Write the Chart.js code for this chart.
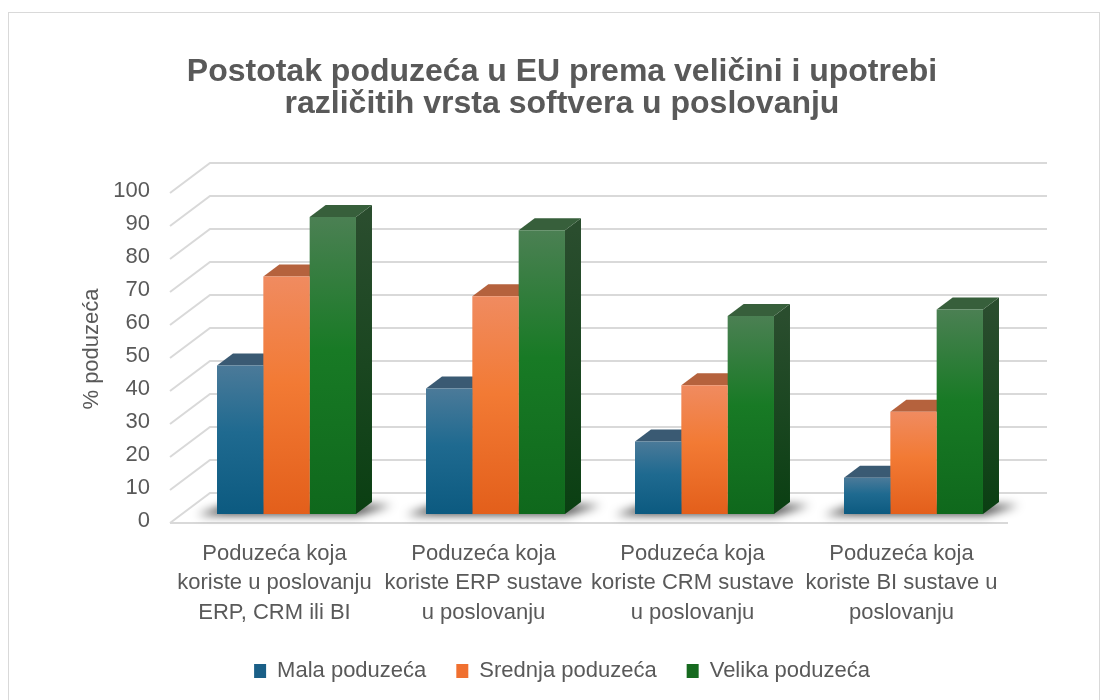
<!DOCTYPE html>
<html>
<head>
<meta charset="utf-8">
<script src="https://cdn.jsdelivr.net/npm/chart.js@4/dist/chart.umd.min.js"></script>
<style>
  html, body { margin: 0; padding: 0; background: #fff; }
  #wrap { width: 1104px; height: 700px; }
</style>
</head>
<body>
<div id="wrap"><canvas id="chart" width="1104" height="700"></canvas></div>
<script>
const categories = [
  ["Poduzeća koja", "koriste u poslovanju", "ERP, CRM ili BI"],
  ["Poduzeća koja", "koriste ERP sustave", "u poslovanju"],
  ["Poduzeća koja", "koriste CRM sustave", "u poslovanju"],
  ["Poduzeća koja", "koriste BI sustave u", "poslovanju"]
];
const seriesNames = ["Mala poduzeća", "Srednja poduzeća", "Velika poduzeća"];
const malaValues = [45, 38, 22, 11];
const srednjaValues = [72, 66, 39, 31];
const velikaValues = [90, 86, 60, 62];
const yTickValues = [0, 10, 20, 30, 40, 50, 60, 70, 80, 90, 100];

const FONT = "'Liberation Sans', Arial, sans-serif";
const TEXT = "#595959";
const DEPTH_X = 16, DEPTH_Y = -12;

// front gradient stops, top face, side face, legend colour
const looks = [
  { stops: ["#4b7a99", "#1f6a90", "#0c5a80"], top: "#3a5a73", side: ["#1e4a66", "#0a3a58"], legend: "#1a5f87" },
  { stops: ["#f08b60", "#f27a34", "#e35f1b"], top: "#b5623d", side: ["#a8542c", "#923f12"], legend: "#f07030" },
  { stops: ["#4b8053", "#187a25", "#0f681c"], top: "#375f3b", side: ["#2a4d2e", "#0a3f12"], legend: "#166a1f" }
];

function frontFill(i) {
  return function (ctx) {
    const chart = ctx.chart;
    const look = looks[i];
    if (!chart.chartArea || !chart.scales.y || ctx.type !== "data") return look.legend;
    const y = chart.scales.y;
    const top = y.getPixelForValue(ctx.raw);
    const bottom = y.getPixelForValue(0);
    const g = chart.ctx.createLinearGradient(0, top, 0, bottom);
    g.addColorStop(0, look.stops[0]);
    g.addColorStop(0.45, look.stops[1]);
    g.addColorStop(1, look.stops[2]);
    return g;
  };
}

const frame = {
  id: "frame",
  beforeDraw(chart) {
    const c = chart.ctx;
    c.save();
    c.fillStyle = "#fff";
    c.fillRect(0, 0, chart.width, chart.height);
    c.strokeStyle = "#d9d9d9";
    c.lineWidth = 1;
    c.strokeRect(8.5, 12.5, 1091, 700);
    c.restore();
  }
};

const walls = {
  id: "walls",
  beforeDatasetsDraw(chart) {
    const c = chart.ctx;
    const y = chart.scales.y;
    const { left, right } = chart.chartArea;
    c.save();
    c.strokeStyle = "#d9d9d9";
    c.lineWidth = 2;
    yTickValues.forEach(v => {
      const py = y.getPixelForValue(v);
      c.beginPath();
      c.moveTo(left - 12, py + 9);
      c.lineTo(left + 28, py - 21);
      c.lineTo(right + 29, py - 21);
      c.stroke();
    });
    const base = y.getPixelForValue(0);
    c.beginPath();
    c.moveTo(left - 12, base + 9);
    c.lineTo(right - 10, base + 9);
    c.stroke();

    // floor shadows under each group
    const m0 = chart.getDatasetMeta(0), m2 = chart.getDatasetMeta(2);
    c.filter = "blur(5px)";
    c.fillStyle = "rgba(0,0,0,0.75)";
    m0.data.forEach((b, i) => {
      const g = m2.data[i];
      const l = b.x - b.width / 2, r = g.x + g.width / 2;
      c.beginPath();
      c.moveTo(l - 20, base + 1);
      c.lineTo(r + 2, base + 1);
      c.lineTo(r + DEPTH_X + 20, base + DEPTH_Y + 3);
      c.lineTo(l + DEPTH_X - 6, base + DEPTH_Y + 3);
      c.closePath();
      c.fill();
    });
    c.filter = "none";

    // side and top faces, drawn before the front faces
    chart.data.datasets.forEach((ds, di) => {
      const look = looks[di];
      chart.getDatasetMeta(di).data.forEach(bar => {
        const l = bar.x - bar.width / 2, r = bar.x + bar.width / 2;
        const t = bar.y, b = bar.base;
        const sg = c.createLinearGradient(0, t, 0, b);
        sg.addColorStop(0, look.side[0]);
        sg.addColorStop(1, look.side[1]);
        c.fillStyle = sg;
        c.beginPath();
        c.moveTo(r, t);
        c.lineTo(r + DEPTH_X, t + DEPTH_Y);
        c.lineTo(r + DEPTH_X, b + DEPTH_Y);
        c.lineTo(r, b);
        c.closePath();
        c.fill();
        c.fillStyle = look.top;
        c.beginPath();
        c.moveTo(l, t);
        c.lineTo(l + DEPTH_X, t + DEPTH_Y);
        c.lineTo(r + DEPTH_X, t + DEPTH_Y);
        c.lineTo(r, t);
        c.closePath();
        c.fill();
      });
    });
    c.restore();
  }
};

new Chart(document.getElementById("chart"), {
  type: "bar",
  data: {
    labels: categories,
    datasets: [
      { label: seriesNames[0], data: malaValues, backgroundColor: frontFill(0) },
      { label: seriesNames[1], data: srednjaValues, backgroundColor: frontFill(1) },
      { label: seriesNames[2], data: velikaValues, backgroundColor: frontFill(2) }
    ]
  },
  options: {
    responsive: false,
    animation: false,
    layout: { padding: { left: 20, right: 0, top: 0, bottom: 8 } },
    datasets: {
      bar: { barPercentage: 1, categoryPercentage: 0.665, borderWidth: 0 }
    },
    scales: {
      x: {
        afterFit(scale) { scale.height = 116; },
        grid: { display: false, drawTicks: false },
        border: { display: false },
        ticks: {
          color: TEXT,
          font: { family: FONT, size: 22, lineHeight: 1.34 },
          padding: 25,
          maxRotation: 0,
          autoSkip: false,
          labelOffset: -12
        }
      },
      y: {
        min: 0,
        max: 100,
        afterFit(scale) { scale.width = 162; },
        grid: { display: false, drawTicks: false },
        border: { display: false },
        ticks: {
          stepSize: 10,
          color: TEXT,
          font: { family: FONT, size: 22 },
          padding: 32,
          labelOffset: 7
        },
        title: {
          display: true,
          text: "% poduzeća",
          color: TEXT,
          font: { family: FONT, size: 22 },
          padding: { top: 59, bottom: 0 }
        }
      },
      spacer: {
        type: "linear",
        position: "right",
        afterFit(scale) { scale.width = 86; },
        grid: { display: false, drawTicks: false },
        border: { display: false },
        ticks: { display: false }
      }
    },
    plugins: {
      title: {
        display: true,
        text: ["Postotak poduzeća u EU prema veličini i upotrebi", "različitih vrsta softvera u poslovanju"],
        color: TEXT,
        font: { family: FONT, size: 32, weight: "bold", lineHeight: 1.0 },
        padding: { top: 56, bottom: 64 }
      },
      legend: {
        position: "bottom",
        labels: {
          color: TEXT,
          font: { family: FONT, size: 22 },
          boxWidth: 12,
          boxHeight: 14,
          padding: 30,
          generateLabels(chart) {
            return chart.data.datasets.map((ds, i) => ({
              text: ds.label,
              fillStyle: looks[i].legend,
              strokeStyle: looks[i].legend,
              lineWidth: 0,
              fontColor: TEXT,
              datasetIndex: i
            }));
          }
        }
      },
      tooltip: { enabled: false }
    }
  },
  plugins: [frame, walls]
});
</script>
</body>
</html>
